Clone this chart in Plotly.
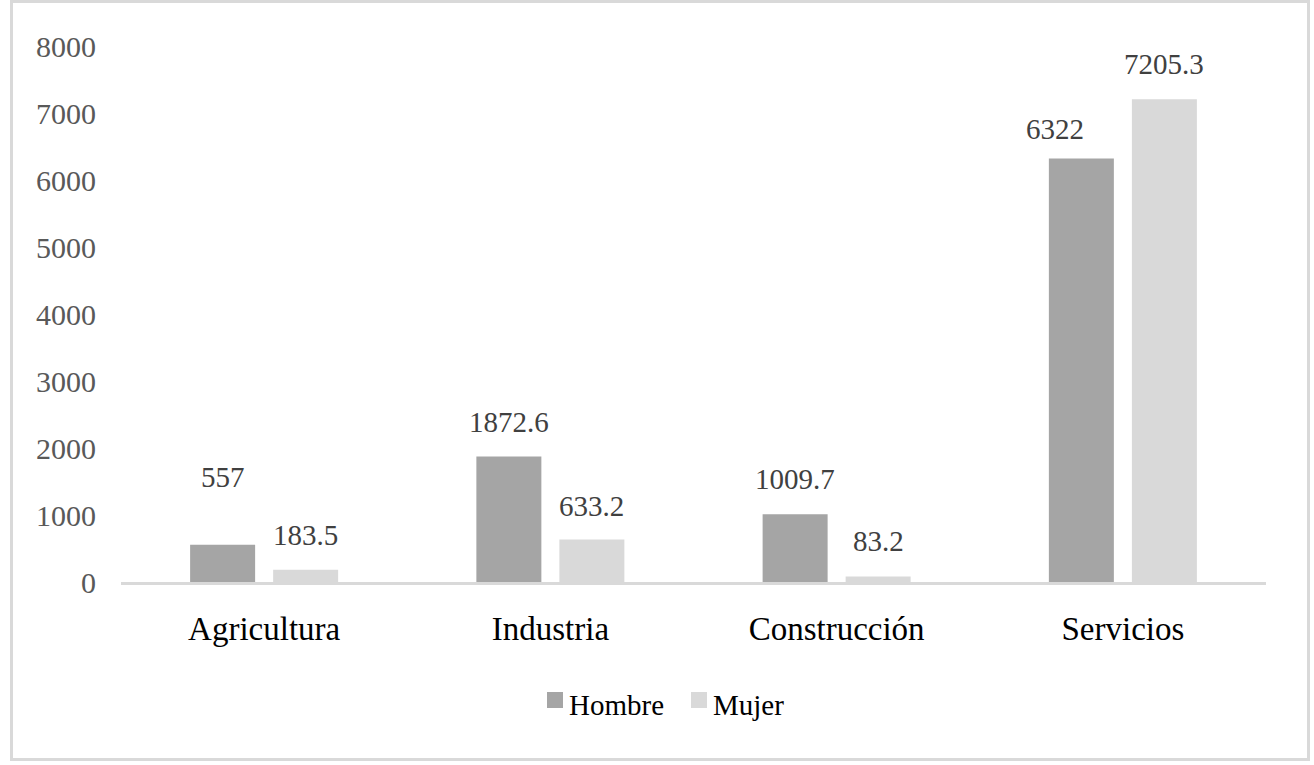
import plotly.graph_objects as go

categories = ["Agricultura", "Industria", "Construcción", "Servicios"]
hombre = [557, 1872.6, 1009.7, 6322]
mujer = [183.5, 633.2, 83.2, 7205.3]
series_names = ["Hombre", "Mujer"]
y_ticks = [0, 1000, 2000, 3000, 4000, 5000, 6000, 7000, 8000]

# label placement tweaks (pixels) as in the original chart
hombre_label_dy = [68, 35, 35, 29]
hombre_label_dx = [0, 0, 0, -26]
mujer_label_dy = [35, 34, 35, 35]
mujer_label_dx = [0, 0, 0, 0]

FONT = "Liberation Serif, Times New Roman, serif"
C_H = "#a5a5a5"
C_M = "#d9d9d9"
BARGAP = 0.42
GROUPGAP = 0.217

fig = go.Figure()
fig.add_trace(go.Bar(x=categories, y=hombre, name=series_names[0], showlegend=False,
                     marker=dict(color=C_H, line=dict(width=0))))
fig.add_trace(go.Bar(x=categories, y=mujer, name=series_names[1], showlegend=False,
                     marker=dict(color=C_M, line=dict(width=0))))

W, H = 1314, 765
ml, mr, mt, mb = 121, 48, 46, 183
pw, ph = W - ml - mr, H - mt - mb


def px(x):
    return (x - ml) / pw


def py(y):
    return (H - mb - y) / ph


slot = (1 - BARGAP) / 4
ann = []
for i, c in enumerate(categories):
    for vals, dys, dxs, sign in ((hombre, hombre_label_dy, hombre_label_dx, -1),
                                 (mujer, mujer_label_dy, mujer_label_dx, 1)):
        v = vals[i]
        ann.append(dict(x=i + sign * slot, y=v, xref="x", yref="y",
                        text=f"{v:g}", showarrow=False, yanchor="middle",
                        xanchor="center", yshift=dys[i], xshift=dxs[i],
                        font=dict(family=FONT, size=29, color="#404040")))

# chart border + custom legend (square swatches + names)
shapes = [dict(type="rect", xref="paper", yref="paper",
               x0=px(11.5), x1=px(1308.5), y0=py(759.5), y1=py(1.5),
               line=dict(color="#d9d9d9", width=3), fillcolor="rgba(0,0,0,0)", layer="below")]
legend_x = [547, 691]
for lx, name, col in zip(legend_x, series_names, (C_H, C_M)):
    shapes.append(dict(type="rect", xref="paper", yref="paper",
                       x0=px(lx), x1=px(lx + 16), y0=py(708), y1=py(692),
                       line=dict(width=0), fillcolor=col))
    ann.append(dict(x=px(lx + 20), y=py(705), xref="paper", yref="paper",
                    text=name, showarrow=False, xanchor="left", yanchor="middle",
                    font=dict(family=FONT, size=29, color="#000000")))

fig.update_layout(
    width=W, height=H,
    margin=dict(l=ml, r=mr, t=mt, b=mb, pad=0),
    paper_bgcolor="white", plot_bgcolor="white",
    bargap=BARGAP, bargroupgap=GROUPGAP, barmode="group",
    font=dict(family=FONT, size=29, color="#000000"),
    showlegend=False,
    annotations=ann,
    shapes=shapes,
    xaxis=dict(showgrid=False, showline=True, linecolor="#d9d9d9", linewidth=3,
               ticks="", tickfont=dict(family=FONT, size=33, color="#000000"),
               ticklabelstandoff=15, zeroline=False),
    yaxis=dict(range=[0, 8000], tickvals=y_ticks, showgrid=False, showline=False,
               zeroline=False, ticks="", tickfont=dict(family=FONT, size=30, color="#595959"),
               ticklabelstandoff=24),
)

fig.write_html("out.html", config={"displayModeBar": False},
               post_script="document.body.style.margin='0';")
